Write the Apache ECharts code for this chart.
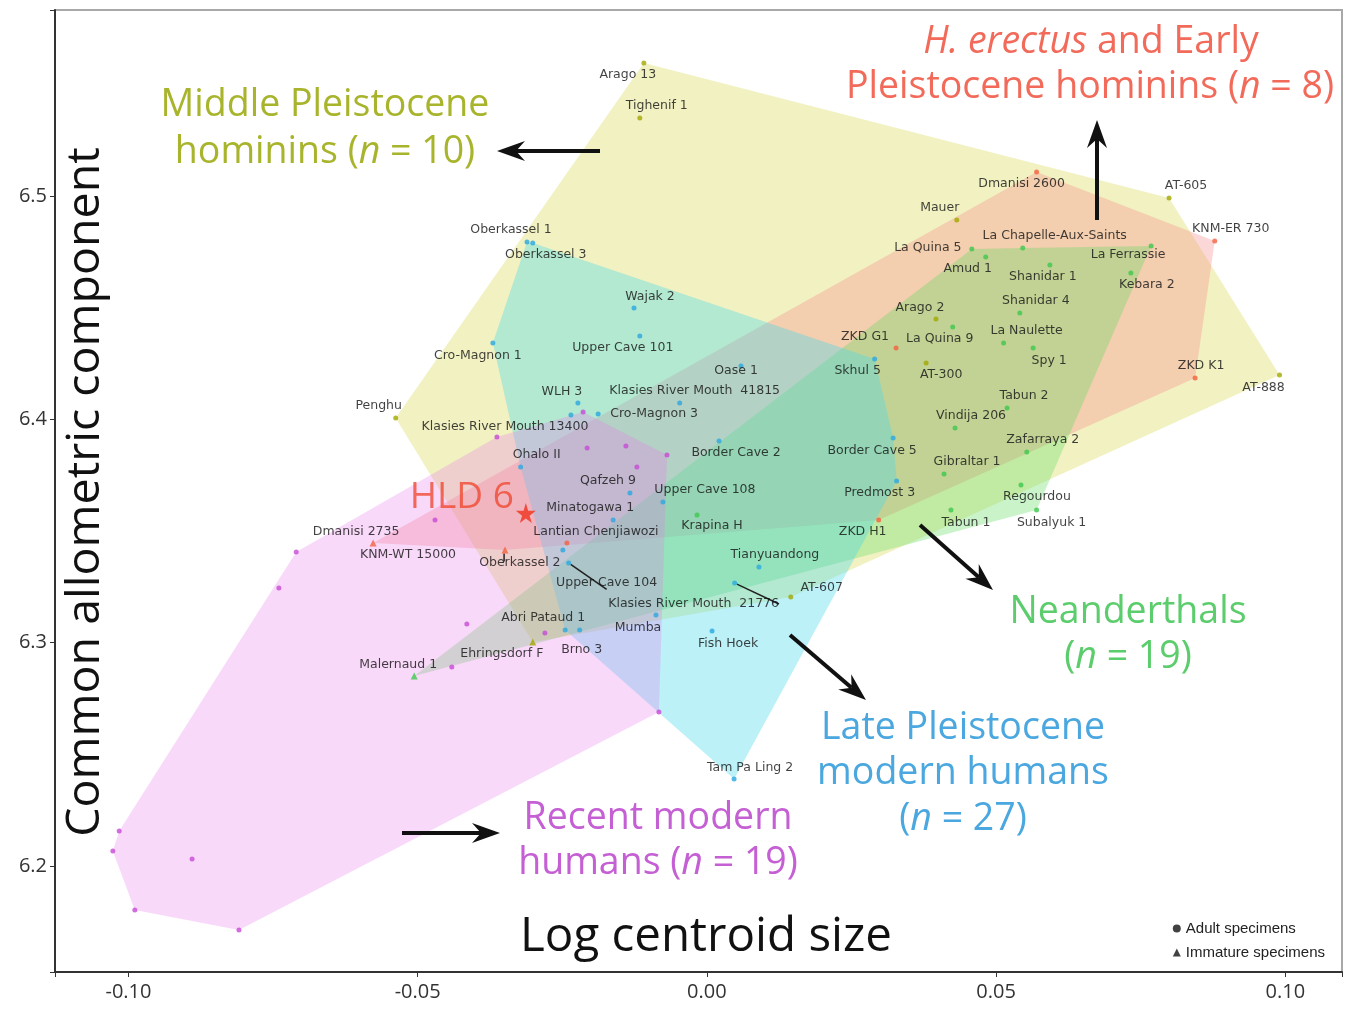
<!DOCTYPE html>
<html>
<head>
<meta charset="utf-8">
<script src="https://cdn.jsdelivr.net/npm/echarts@6/dist/echarts.min.js"></script>
<style>
html, body { margin: 0; padding: 0; background: #fff; }
#main { width: 1346px; height: 1011px; }
</style>
</head>
<body>
<div id="main"></div>
<script>
// 各组标本：[名称, 对数质心大小, 共同异速成分]
const middlePleistocene = [
    ['Arago 13', -0.0109, 6.5596],
    ['Tighenif 1', -0.0116, 6.5349],
    ['Mauer', 0.0432, 6.4893],
    ['AT-605', 0.0799, 6.4991],
    ['Arago 2', 0.0396, 6.4449],
    ['AT-300', 0.0379, 6.4252],
    ['AT-888', 0.0990, 6.4198],
    ['AT-607', 0.0145, 6.3204],
    ['Ehringsdorf F', -0.0301, 6.3003],
    ['Penghu', -0.0538, 6.4006]
];

const erectusEarly = [
    ['Dmanisi 2600', 0.0570, 6.5107],
    ['KNM-ER 730', 0.0878, 6.4798],
    ['ZKD K1', 0.0844, 6.4185],
    ['ZKD G1', 0.0327, 6.4319],
    ['ZKD H1', 0.0297, 6.3549],
    ['Dmanisi 2735', -0.0577, 6.3446],
    ['KNM-WT 15000', -0.0349, 6.3415],
    ['Lantian Chenjiawozi', -0.0242, 6.3446]
];

const neanderthals = [
    ['La Quina 5', 0.0458, 6.4763],
    ['La Chapelle-Aux-Saints', 0.0546, 6.4767],
    ['La Ferrassie', 0.0768, 6.4776],
    ['Amud 1', 0.0482, 6.4727],
    ['Shanidar 1', 0.0593, 6.4691],
    ['Kebara 2', 0.0733, 6.4655],
    ['Shanidar 4', 0.0541, 6.4476],
    ['La Quina 9', 0.0425, 6.4413],
    ['La Naulette', 0.0513, 6.4342],
    ['Spy 1', 0.0564, 6.4319],
    ['Tabun 2', 0.0519, 6.4051],
    ['Vindija 206', 0.0429, 6.3961],
    ['Zafarraya 2', 0.0553, 6.3854],
    ['Gibraltar 1', 0.0410, 6.3755],
    ['Regourdou', 0.0543, 6.3706],
    ['Tabun 1', 0.0422, 6.3594],
    ['Subalyuk 1', 0.0570, 6.3594],
    ['Krapina H', -0.0017, 6.3572],
    ['Malernaud 1', -0.0506, 6.2851]
];

const lateModern = [
    ['Oberkassel 1', -0.0311, 6.4794],
    ['Oberkassel 3', -0.0301, 6.4790],
    ['Wajak 2', -0.0126, 6.4498],
    ['Upper Cave 101', -0.0116, 6.4373],
    ['Cro-Magnon 1', -0.0370, 6.4342],
    ['Oase 1', 0.0059, 6.4239],
    ['WLH 3', -0.0223, 6.4073],
    ['Klasies River Mouth  41815', -0.0047, 6.4073],
    ['Cro-Magnon 3', -0.0188, 6.4024],
    ['Klasies River Mouth 13400', -0.0235, 6.4019],
    ['Ohalo II', -0.0322, 6.3786],
    ['Border Cave 2', 0.0021, 6.3903],
    ['Qafzeh 9', -0.0133, 6.3670],
    ['Upper Cave 108', -0.0076, 6.3630],
    ['Minatogawa 1', -0.0162, 6.3549],
    ['Skhul 5', 0.0290, 6.4270],
    ['Border Cave 5', 0.0322, 6.3916],
    ['Predmost 3', 0.0328, 6.3724],
    ['Tianyuandong', 0.0090, 6.3339],
    ['Klasies River Mouth  21776', 0.0048, 6.3267],
    ['Oberkassel 2', -0.0249, 6.3415],
    ['Upper Cave 104', -0.0239, 6.3357],
    ['Abri Pataud 1', -0.0245, 6.3057],
    ['Brno 3', -0.0220, 6.3057],
    ['Mumba', -0.0088, 6.3124],
    ['Fish Hoek', 0.0009, 6.3052],
    ['Tam Pa Ling 2', 0.0047, 6.2389]
];

// 现代人多数未标注
const recentModern = [
    ['', -0.1016, 6.2156],
    ['', -0.1027, 6.2067],
    ['', -0.0890, 6.2031],
    ['', -0.0989, 6.1803],
    ['', -0.0809, 6.1713],
    ['', -0.0740, 6.3245],
    ['', -0.0710, 6.3406],
    ['', -0.0470, 6.3549],
    ['', -0.0415, 6.3083],
    ['', -0.0441, 6.2891],
    ['', -0.0280, 6.3043],
    ['', -0.0214, 6.4033],
    ['', -0.0363, 6.3921],
    ['', -0.0207, 6.3872],
    ['', -0.0140, 6.3881],
    ['', -0.0121, 6.3786],
    ['', -0.0069, 6.3840],
    ['', -0.0083, 6.2689]
];

const hld6 = [['HLD 6', -0.0313, 6.3580]];

// 未成年标本用三角形
const immature = ['Malernaud 1', 'Ehringsdorf F', 'KNM-WT 15000', 'Dmanisi 2735'];

// 标签相对点的偏移(px)
const labelOffset = {
    'Arago 13': [-16, 12], 'Tighenif 1': [17, -12], 'Mauer': [-17, -12], 'AT-605': [17, -12],
    'Arago 2': [-16, -11], 'AT-300': [15, 12], 'AT-888': [-16, 13], 'AT-607': [31, -9],
    'Ehringsdorf F': [-31, 12], 'Penghu': [-17, -12],
    'Dmanisi 2600': [-15, 12], 'KNM-ER 730': [16, -12], 'ZKD K1': [6, -12], 'ZKD G1': [-31, -11],
    'ZKD H1': [-16, 12], 'Dmanisi 2735': [-17, -11], 'KNM-WT 15000': [-97, 5], 'Lantian Chenjiawozi': [29, -11],
    'La Quina 5': [-44, -1], 'La Chapelle-Aux-Saints': [32, -12], 'La Ferrassie': [-23, 9], 'Amud 1': [-18, 12],
    'Shanidar 1': [-7, 12], 'Kebara 2': [16, 12], 'Shanidar 4': [16, -12], 'La Quina 9': [-13, 12],
    'La Naulette': [23, -12], 'Spy 1': [16, 13], 'Tabun 2': [17, -12], 'Vindija 206': [16, -12],
    'Zafarraya 2': [16, -12], 'Gibraltar 1': [23, -12], 'Regourdou': [16, 12], 'Tabun 1': [15, 13],
    'Subalyuk 1': [15, 13], 'Krapina H': [15, 11], 'Malernaud 1': [-16, -11],
    'Oberkassel 1': [-16, -12], 'Oberkassel 3': [13, 12], 'Wajak 2': [16, -11], 'Upper Cave 101': [-17, 12],
    'Cro-Magnon 1': [-15, 13], 'Oase 1': [-5, 5], 'WLH 3': [-16, -11], 'Klasies River Mouth  41815': [15, -12],
    'Cro-Magnon 3': [56, 0], 'Klasies River Mouth 13400': [-66, 12], 'Ohalo II': [16, -12], 'Border Cave 2': [17, 12],
    'Qafzeh 9': [-22, -12], 'Upper Cave 108': [42, -12], 'Minatogawa 1': [-23, -12], 'Skhul 5': [-17, 12],
    'Border Cave 5': [-21, 13], 'Predmost 3': [-17, 12], 'Tianyuandong': [16, -12], 'Klasies River Mouth  21776': [-41, 21],
    'Oberkassel 2': [-43, 13], 'Upper Cave 104': [38, 20], 'Abri Pataud 1': [-22, -12], 'Brno 3': [2, 20],
    'Mumba': [-18, 13], 'Fish Hoek': [16, 13], 'Tam Pa Ling 2': [16, -11]
};

const groups = [
    { name: 'Middle Pleistocene hominins', rows: middlePleistocene, dot: '#a3a800', fill: 'rgba(225,225,120,0.45)' },
    { name: 'H. erectus and Early Pleistocene hominins', rows: erectusEarly, dot: '#f4603e', fill: 'rgba(245,140,140,0.35)' },
    { name: 'Neanderthals', rows: neanderthals, dot: '#3cc84c', fill: 'rgba(100,220,100,0.34)' },
    { name: 'Late Pleistocene modern humans', rows: lateModern, dot: '#2aa8e0', fill: 'rgba(70,215,235,0.36)' },
    { name: 'Recent modern humans', rows: recentModern, dot: '#c74ad6', fill: 'rgba(235,120,235,0.28)' }
];

// 凸包（单调链）
function convexHull(points) {
    const p = points.slice().sort((a, b) => a[0] - b[0] || a[1] - b[1]);
    const cross = (o, a, b) => (a[0] - o[0]) * (b[1] - o[1]) - (a[1] - o[1]) * (b[0] - o[0]);
    const lower = [], upper = [];
    p.forEach(pt => {
        while (lower.length >= 2 && cross(lower[lower.length - 2], lower[lower.length - 1], pt) <= 0) lower.pop();
        lower.push(pt);
    });
    for (let i = p.length - 1; i >= 0; i--) {
        const pt = p[i];
        while (upper.length >= 2 && cross(upper[upper.length - 2], upper[upper.length - 1], pt) <= 0) upper.pop();
        upper.push(pt);
    }
    upper.pop(); lower.pop();
    return lower.concat(upper);
}

const hullSeries = groups.map(g => {
    const hull = convexHull(g.rows.map(r => [r[1], r[2]]));
    return {
        type: 'custom',
        name: g.name + ' hull',
        silent: true,
        z: 1,
        data: [hull[0]],
        renderItem: (params, api) => ({
            type: 'polygon',
            shape: { points: hull.map(p => api.coord(p)) },
            style: { fill: g.fill }
        })
    };
});

const pointSeries = groups.map(g => ({
    type: 'scatter',
    name: g.name,
    z: 3,
    itemStyle: { color: g.dot },
    data: g.rows.map(([n, x, y]) => {
        const imm = immature.includes(n);
        const item = {
            name: n,
            value: [x, y],
            symbol: imm ? 'triangle' : 'circle',
            symbolSize: imm ? 7 : 5,
            label: { offset: labelOffset[n] || [15, -12] }
        };
        if (['KNM-WT 15000', 'Upper Cave 104', 'Klasies River Mouth  21776'].includes(n)) {
            item.labelLine = { show: true, lineStyle: { color: '#222', width: 1.5 } };
        }
        return item;
    }),
    label: {
        show: true,
        position: 'inside',
        formatter: '{b}',
        fontSize: 12.5,
        fontFamily: 'DejaVu Sans',
        color: '#111'
    }
}));

// 注释箭头
function arrow(x1, y1, x2, y2) {
    const a = Math.atan2(y2 - y1, x2 - x1);
    const c = Math.cos(a), s = Math.sin(a);
    const L = 28, W = 10, N = 9;
    const bx = x2 - L * c, by = y2 - L * s;
    const nx = x2 - (L - N) * c, ny = y2 - (L - N) * s;
    return [
        { type: 'line', z: 10, shape: { x1: x1, y1: y1, x2: nx, y2: ny }, style: { stroke: '#111', lineWidth: 4 } },
        { type: 'polygon', z: 10, shape: { points: [[x2, y2], [bx - W * s, by + W * c], [nx, ny], [bx + W * s, by - W * c]] }, style: { fill: '#111' } }
    ];
}

const titleSize = 37.5;

function groupText(x, y, text, color, rich) {
    return {
        type: 'text', z: 10, x: x, y: y,
        style: {
            text: text, align: 'center', verticalAlign: 'middle',
            fill: color, fontSize: titleSize, fontFamily: 'Open Sans',
            rich: rich
        }
    };
}

function richFor(color) {
    return {
        r: { fontSize: titleSize, fontFamily: 'Open Sans', fill: color, color: color },
        i: { fontSize: titleSize, fontFamily: 'Open Sans', fontStyle: 'italic', fill: color, color: color }
    };
}

const cMid = '#a8b42c', cEr = '#f26a5a', cNe = '#5ccd6c', cLa = '#4aa7df', cRe = '#c55fd4';

const graphics = [
    groupText(325, 105, 'Middle Pleistocene', cMid),
    groupText(325, 152, '{r|hominins (}{i|n}{r| = 10)}', cMid, richFor(cMid)),
    groupText(1091, 42, '{i|H. erectus}{r| and Early}', cEr, richFor(cEr)),
    groupText(1090, 87, '{r|Pleistocene hominins (}{i|n}{r| = 8)}', cEr, richFor(cEr)),
    groupText(1128, 612, 'Neanderthals', cNe),
    groupText(1128, 657, '{r|(}{i|n}{r| = 19)}', cNe, richFor(cNe)),
    groupText(963, 728, 'Late Pleistocene', cLa),
    groupText(963, 773, 'modern humans', cLa),
    groupText(963, 819, '{r|(}{i|n}{r| = 27)}', cLa, richFor(cLa)),
    groupText(658, 818, 'Recent modern', cRe),
    groupText(658, 863, '{r|humans (}{i|n}{r| = 19)}', cRe, richFor(cRe)),
    // 轴标题（绘图区内）
    {
        type: 'text', z: 10, x: 86, y: 492, rotation: Math.PI / 2,
        style: {
            text: 'Common allometric component', align: 'center', verticalAlign: 'middle',
            fill: '#111', fontSize: 46.5, fontFamily: 'Open Sans'
        }
    },
    {
        type: 'text', z: 10, x: 706, y: 937,
        style: {
            text: 'Log centroid size', align: 'center', verticalAlign: 'middle',
            fill: '#111', fontSize: 47.5, fontFamily: 'Open Sans'
        }
    }
].concat(
    arrow(600, 151, 497, 151),
    arrow(1097, 220, 1097, 120),
    arrow(920, 525, 993, 590),
    arrow(790, 635, 866, 700),
    arrow(402, 833, 500, 833)
);

const onStep = (v, step) => Math.abs(v / step - Math.round(v / step)) < 1e-6;

const chart = echarts.init(document.getElementById('main'));
chart.setOption({
    backgroundColor: '#fff',
    animation: false,
    textStyle: { fontFamily: 'Open Sans' },
    grid: {
        left: 55, right: 4, top: 10, bottom: 39,
        containLabel: false,
        outerBoundsMode: 'none',
        show: true, borderColor: '#a8a8a8', borderWidth: 2
    },
    xAxis: {
        type: 'value',
        min: -0.1127, max: 0.1098,
        splitNumber: 4,
        axisLine: { show: true, onZero: false, lineStyle: { color: '#333', width: 2 } },
        axisTick: { show: true, length: 5, lineStyle: { color: '#333' } },
        axisLabel: {
            fontSize: 20, color: '#333', margin: 10,
            formatter: v => onStep(v, 0.05) ? (Math.round(v * 100) / 100).toFixed(2) : ''
        },
        splitLine: { show: false }
    },
    yAxis: {
        type: 'value',
        min: 6.1525, max: 6.5833,
        splitNumber: 4,
        axisLine: { show: true, onZero: false, lineStyle: { color: '#333', width: 2 } },
        axisTick: { show: true, length: 5, lineStyle: { color: '#333' } },
        axisLabel: {
            fontSize: 20, color: '#333', margin: 8,
            formatter: v => onStep(v, 0.1) ? v.toFixed(1) : ''
        },
        splitLine: { show: false }
    },
    legend: {
        data: ['Adult specimens', 'Immature specimens'],
        orient: 'vertical',
        right: 16, bottom: 46,
        itemWidth: 8, itemHeight: 8, itemGap: 9,
        textStyle: { fontSize: 15, color: '#222', fontFamily: 'Liberation Sans' }
    },
    graphic: graphics,
    series: hullSeries.concat(pointSeries, [
        {
            type: 'scatter',
            name: 'HLD 6',
            z: 5,
            symbol: 'path://M50,0 L61,35 L98,35 L68,57 L79,91 L50,70 L21,91 L32,57 L2,35 L39,35 Z',
            symbolSize: 20,
            itemStyle: { color: '#f0321e' },
            data: hld6.map(([n, x, y]) => ({ name: n, value: [x, y] })),
            label: {
                show: true, position: 'inside', offset: [-64, -16],
                formatter: '{b}', fontSize: 37, color: '#f04a32', fontFamily: 'Open Sans'
            }
        },
        { type: 'scatter', name: 'Adult specimens', symbol: 'circle', itemStyle: { color: '#111' }, data: [] },
        { type: 'scatter', name: 'Immature specimens', symbol: 'triangle', itemStyle: { color: '#111' }, data: [] }
    ])
});

window.addEventListener('resize', () => chart.resize());
</script>
</body>
</html>
